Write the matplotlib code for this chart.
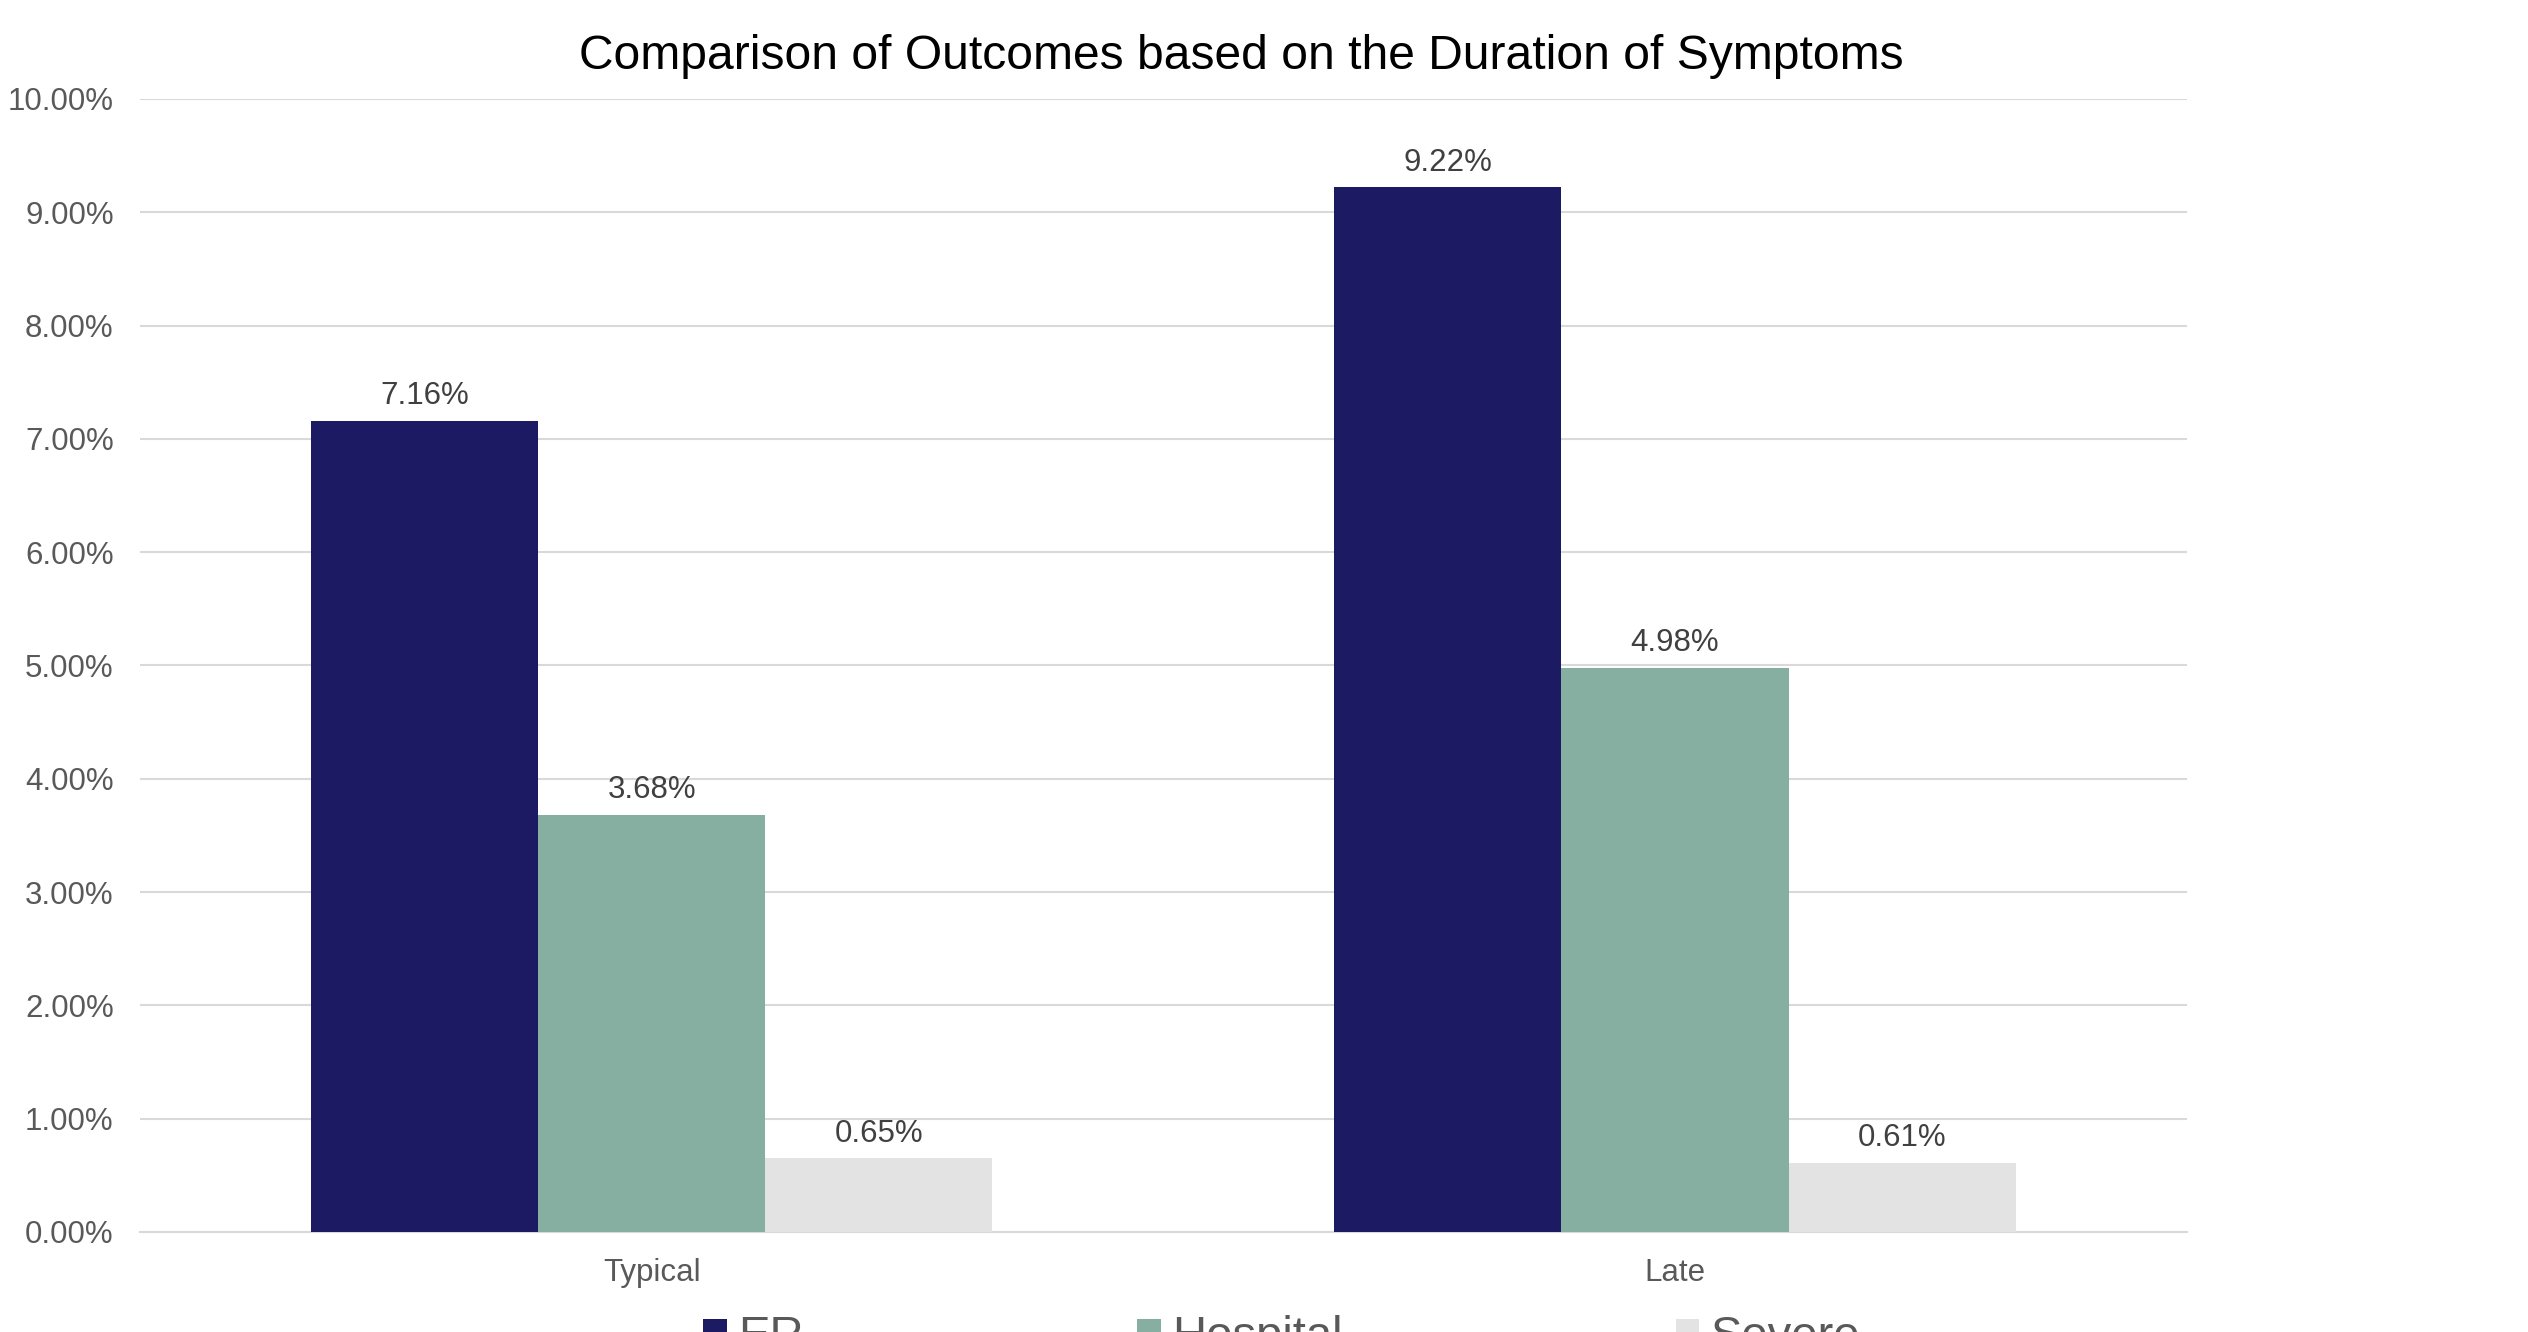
import numpy as np
import matplotlib
matplotlib.use('Agg')
import matplotlib.pyplot as plt
from matplotlib.ticker import FuncFormatter

plt.rcParams['font.family'] = ['Liberation Sans', 'DejaVu Sans']

categories = ['Typical', 'Late']
series = ['ER', 'Hospital', 'Severe']
er = [7.16, 9.22]
hospital = [3.68, 4.98]
severe = [0.65, 0.61]
colors = ['#1C1A62', '#86AFA2', '#E3E3E3']

values = [er, hospital, severe]
grey = '#595959'

fig = plt.figure(figsize=(25.28, 13.32), dpi=100)
ax = fig.add_axes([0.0554, 0.0751, 0.8096, 0.8506])

x = np.arange(len(categories))
w = 0.222
for i, (name, vals) in enumerate(zip(series, values)):
    pos = x + (i - 1) * w
    ax.bar(pos, vals, width=w, color=colors[i], label=name, zorder=3)
    for px, v in zip(pos, vals):
        ax.annotate(f'{v:.2f}%', (px, v), xytext=(0, 7), textcoords='offset points',
                    ha='center', va='bottom', fontsize=22.5, color='#404040')

ax.set_xlim(-0.5, 1.5)
ax.set_ylim(0, 10)
ax.set_yticks(np.arange(0, 11, 1))
ax.yaxis.set_major_formatter(FuncFormatter(lambda v, p: f'{v:.2f}%'))
ax.set_xticks(x)
ax.set_xticklabels(categories)
ax.tick_params(axis='y', length=0, pad=19, labelsize=22.5, labelcolor=grey)
ax.tick_params(axis='x', length=0, pad=19, labelsize=22.5, labelcolor=grey)
ax.grid(axis='y', color='#D9D9D9', linewidth=1.5, zorder=0)
for s in ['top', 'right', 'left']:
    ax.spines[s].set_visible(False)
ax.spines['bottom'].set_color('#D9D9D9')
ax.spines['bottom'].set_linewidth(1.5)

fig.text(0.491, 0.9575, 'Comparison of Outcomes based on the Duration of Symptoms',
         ha='center', va='center', fontsize=34.6, color='black')

leg = fig.legend(loc='upper left', bbox_to_anchor=(703 / 2528, 1 - 1315 / 1332), ncol=3,
                 frameon=False, fontsize=34, handlelength=0.5, handleheight=0.5,
                 handletextpad=0.25, columnspacing=7.05, borderpad=0, borderaxespad=0)
for t in leg.get_texts():
    t.set_color(grey)

fig.savefig('out.png', dpi=100)
